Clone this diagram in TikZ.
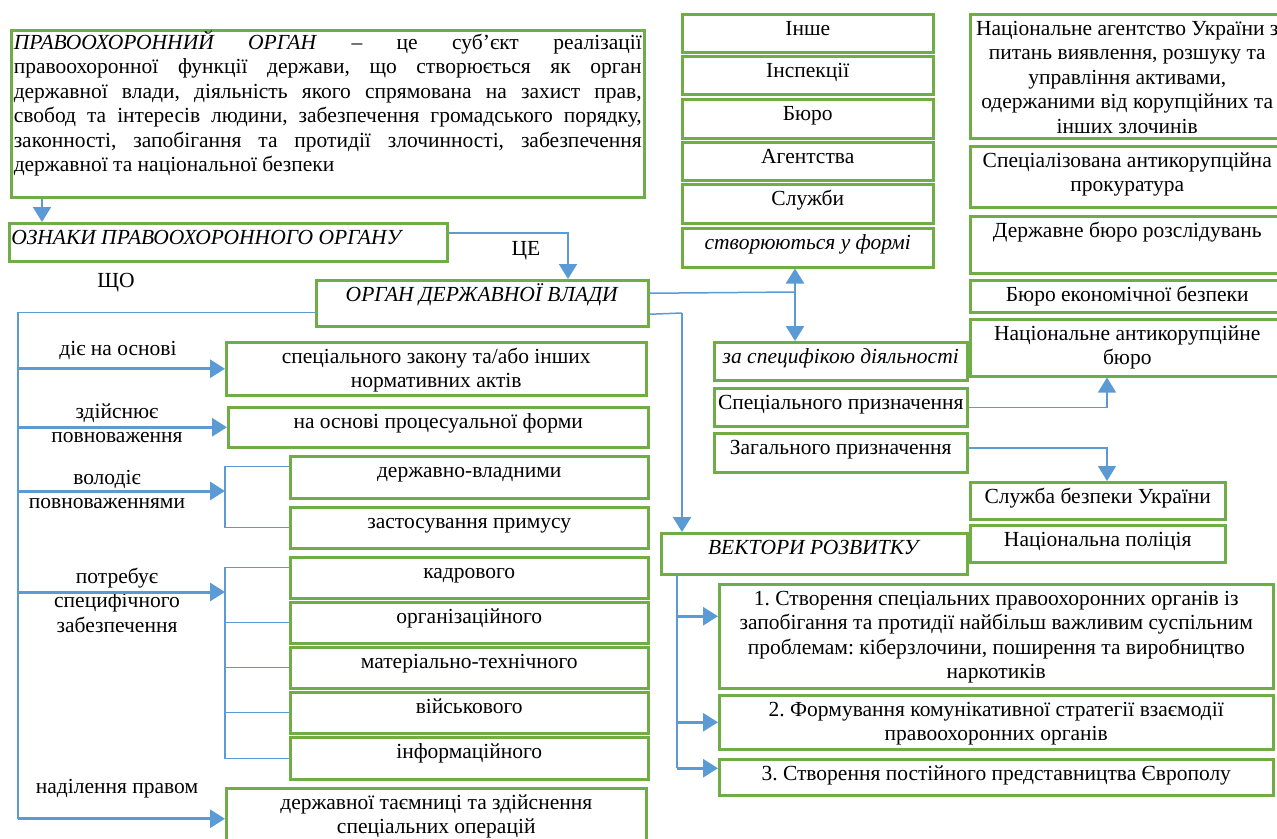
\documentclass[tikz,border=0pt]{standalone}
\usepackage{fontspec}
\setmainfont{Liberation Serif}
\usetikzlibrary{arrows.meta}
\definecolor{boxgreen}{RGB}{112,173,71}
\definecolor{linkblue}{RGB}{91,155,213}
\hyphenpenalty=10000
\exhyphenpenalty=10000
\frenchspacing
% box text starts at the top, first baseline 21pt down
\newcommand{\bx}[4][\centering]{\parbox[t][#3][t]{#2}{#1\rule{0pt}{21pt}#4}}
\newcommand{\lt}[1]{\parbox[t]{220pt}{\centering\rule{0pt}{21pt}#1}}

\begin{document}
\begin{tikzpicture}[x=1pt,y=-1pt, >={Triangle[length=15pt,width=18pt]},
  every node/.style={font=\fontsize{21.5}{24.5}\selectfont, inner sep=0pt, anchor=north west},
  gbox/.style={draw=boxgreen, line width=2.5pt},
  lbl/.style={anchor=north},
  conn/.style={draw=linkblue, line width=1.5pt},
  thinl/.style={draw=linkblue, line width=1.1pt},
  arr/.style={conn, ->},
  fat/.style={arr, line width=3pt},
  dbl/.style={conn, line width=2.5pt, <->}]
\useasboundingbox (0,0) rectangle (1277,838);
\clip (0,0) rectangle (1277,838);

% definition
\node[gbox, inner xsep=2.5pt] (def) at (10,29) {\parbox[t][167pt][t]{628pt}{\rule{0pt}{19pt}%
\makebox[628pt][s]{\textit{ПРАВООХОРОННИЙ ОРГАН} – це суб’єкт реалізації}\\
\makebox[628pt][s]{правоохоронної функції держави, що створюється як орган}\\
\makebox[628pt][s]{державної влади, діяльність якого спрямована на захист прав,}\\
\makebox[628pt][s]{свобод та інтересів людини, забезпечення громадського порядку,}\\
\makebox[628pt][s]{законності, запобігання та протидії злочинності, забезпечення}\\
державної та національної безпеки}};
\node[gbox] (ozn) at (8,222) {\bx[\raggedright\hspace*{2pt}]{438pt}{38pt}{\textit{ОЗНАКИ ПРАВООХОРОННОГО ОРГАНУ}}};
\node[gbox] (organ) at (315,279) {\bx{332pt}{46pt}{\textit{ОРГАН ДЕРЖАВНОЇ ВЛАДИ}}};

% forms
\node[gbox] (inshe) at (681,13) {\bx{251pt}{38pt}{Інше}};
\node[gbox] (insp) at (681,55) {\bx{251pt}{38pt}{Інспекції}};
\node[gbox] (bjuro) at (681,98) {\bx{251pt}{39pt}{Бюро}};
\node[gbox] (agen) at (681,141) {\bx{251pt}{38pt}{Агентства}};
\node[gbox] (sluzh) at (681,183) {\bx{251pt}{39pt}{Служби}};
\node[gbox] (stvor) at (681,227) {\bx{251pt}{39pt}{\textit{створюються у формі}}};

% special purpose bodies
\node[gbox] (nazk) at (969,13) {\bx{314pt}{124pt}{Національне агентство України з\\питань виявлення, розшуку та\\управління активами,\\одержаними від корупційних та\\інших злочинів}};
\node[gbox] (sap) at (969,145) {\bx{314pt}{61pt}{Спеціалізована антикорупційна\\прокуратура}};
\node[gbox] (dbr) at (969,215) {\bx{314pt}{57pt}{Державне бюро розслідувань}};
\node[gbox] (beb) at (969,279) {\bx{314pt}{32pt}{Бюро економічної безпеки}};
\node[gbox] (nabu) at (969,318) {\bx{314pt}{57pt}{Національне антикорупційне\\бюро}};

\node[gbox] (specif) at (713,341) {\bx{253pt}{38pt}{\textit{за специфікою діяльності}}};
\node[gbox] (specp) at (713,387) {\bx{253pt}{38pt}{Спеціального призначення}};
\node[gbox] (zag) at (713,432) {\bx{253pt}{39pt}{Загального призначення}};
\node[gbox] (sbu) at (969,481) {\bx{255pt}{37pt}{Служба безпеки України}};
\node[gbox] (npol) at (969,524) {\bx{255pt}{37pt}{Національна поліція}};

% vectors
\node[gbox] (vekt) at (660,532) {\bx{306pt}{41pt}{\textit{ВЕКТОРИ РОЗВИТКУ}}};
\node[gbox] (v1) at (718,583) {\bx{554pt}{104pt}{1. Створення спеціальних правоохоронних органів із\\запобігання та протидії найбільш важливим суспільним\\проблемам: кіберзлочини, поширення та виробництво\\наркотиків}};
\node[gbox] (v2) at (718,694) {\bx{554pt}{54pt}{2. Формування комунікативної стратегії взаємодії\\правоохоронних органів}};
\node[gbox] (v3) at (718,758) {\bx{554pt}{36pt}{3. Створення постійного представництва Європолу}};

% features
\node[gbox] (zakon) at (225,341) {\bx{420pt}{53pt}{спеціального закону та/або інших\\нормативних актів}};
\node[gbox] (proc) at (227,406) {\bx{420pt}{40pt}{на основі процесуальної форми}};
\node[gbox] (vlad) at (289,455) {\bx{358pt}{42pt}{державно-владними}};
\node[gbox] (prym) at (289,506) {\bx{358pt}{41pt}{застосування примусу}};
\node[gbox] (kadr) at (289,556) {\bx{358pt}{41pt}{кадрового}};
\node[gbox] (org) at (289,601) {\bx{358pt}{41pt}{організаційного}};
\node[gbox] (mat) at (289,646) {\bx{358pt}{41pt}{матеріально-технічного}};
\node[gbox] (vijsk) at (289,691) {\bx{358pt}{41pt}{військового}};
\node[gbox] (inform) at (289,736) {\bx{358pt}{42pt}{інформаційного}};
\node[gbox] (nadil) at (225,787) {\bx{420pt}{61pt}{державної таємниці та здійснення\\спеціальних операцій}};

\node[lbl] (sho) at (116,266) {\lt{ЩО}};
\node[lbl] (cetxt) at (526,234) {\lt{ЦЕ}};
\node[lbl] (dije) at (118,334) {\lt{діє на основі}};
\node[lbl] (zdij) at (117,397) {\lt{здійснює\\повноваження}};
\node[lbl] (volod) at (107,463) {\lt{володіє\\повноваженнями}};
\node[lbl] (potr) at (117,562) {\lt{потребує\\специфічного\\забезпечення}};
\node[lbl] (nadl) at (117,772) {\lt{наділення правом}};

\coordinate (xdef) at (42,0);
\coordinate (xce) at (568,0);
\coordinate (xtr) at (18,0);
\coordinate (br1) at (225,491);
\coordinate (br2) at (225,592);
\coordinate (fork) at (795,292);
\coordinate (vd) at (682,313);
\coordinate (xsj) at (1107,0);
\coordinate (xvt) at (677,0);
\coordinate (a1) at ([yshift=20pt]v1.west);
\coordinate (a3) at ([yshift=9pt]v3.west);

\draw[arr, line width=2pt] (xdef |- def.south) -- (xdef |- ozn.north);
\draw[arr, line width=2pt] ([yshift=9pt]ozn.east) -| (xce |- organ.north);
\draw[conn] ([yshift=-9pt]organ.west) -| (xtr |- nadil.west);
\foreach \n in {zakon,proc,nadil} \draw[fat] (xtr |- \n.west) -- (\n.west);
\foreach \c in {br1,br2} \draw[fat] (xtr |- \c) -- (\c);
\draw[thinl] ([yshift=11pt]vlad.west) -| (br1) |- (prym.west);
\draw[thinl] ([yshift=10pt]kadr.west) -| (br2) |- (inform.west);
\foreach \n in {org,mat,vijsk} \draw[thinl] (br2 |- \n.west) -- (\n.west);
\draw[conn] ([yshift=10pt]organ.east) -- (fork);
\draw[dbl] (fork |- stvor.south) -- (fork |- specif.north);
\draw[conn] ([yshift=-11pt]organ.east) -- (vd);
\draw[arr, line width=2.5pt] (vd) -- (vd |- vekt.north);
\draw[arr] (specp.east) -| (xsj |- nabu.south);
\draw[arr] ([yshift=5pt]zag.east) -| (xsj |- sbu.north);
\draw[conn] (xvt |- vekt.south) -- (xvt |- a3);
\foreach \c in {a1,v2.west,a3} \draw[fat] (xvt |- \c) -- (\c);
\end{tikzpicture}
\end{document}
